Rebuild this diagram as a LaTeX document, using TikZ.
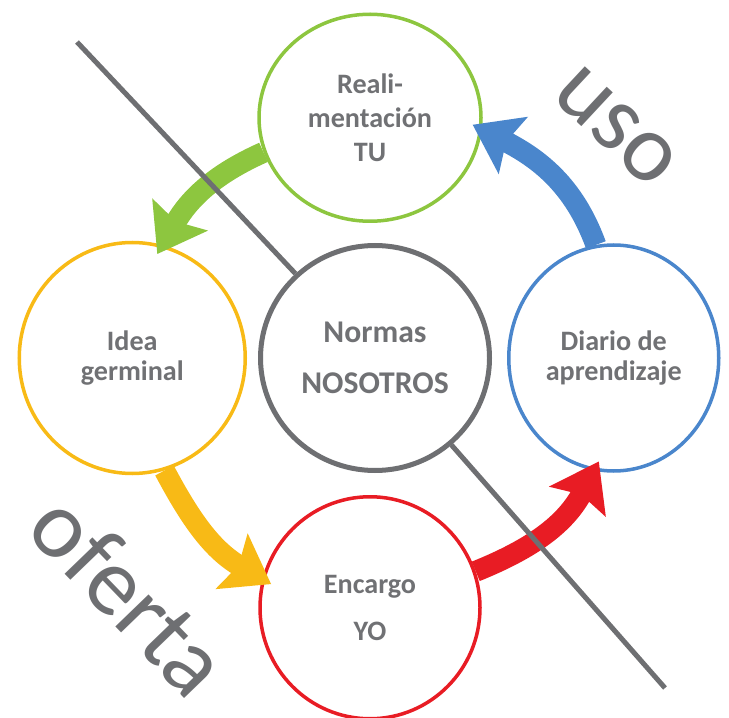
\documentclass[tikz,border=0pt]{standalone}
\usepackage{fontspec}
\setmainfont{Carlito}
\usepackage{tikz}
\usetikzlibrary{arrows.meta,shapes.geometric,positioning}
\definecolor{verde}{RGB}{141,198,63}
\definecolor{amarillo}{RGB}{248,186,22}
\definecolor{rojo}{RGB}{232,28,36}
\definecolor{azul}{RGB}{74,134,204}
\definecolor{gris}{RGB}{110,111,114}
\definecolor{texto}{RGB}{112,113,116}
\tikzset{
	ring/.style={
		ellipse,
		line width=0.07cm,
		draw=#1,
		fill=white,
		inner sep=0pt,
		text=texto,
		align=center,
	},
	flow/.style={
		line width=0.42cm,
		draw=#1,
		shorten >=-6pt,
		-{Stealth[length=9mm,width=12.5mm,inset=1.5mm]},
	},
}

\begin{document}
\begin{tikzpicture}[>=stealth]

				\tikzstyle{bigword}=[text=gris,font=\fontsize{55}{55}\selectfont]

				\useasboundingbox (0,0) rectangle (14.58,14.34);

				\node [ring=gris, line width=0.1cm, minimum width=4.58cm, minimum height=4.5cm, font=\bfseries\fontsize{18}{29}\selectfont] (normas) at (7.5,7.18) {Normas\\NOSOTROS};
				\node [ring=verde, minimum width=4.44cm, minimum height=4.14cm, font=\bfseries\fontsize{16}{19.5}\selectfont] (realim) [node distance=0.4cm, above =of normas, xshift=-1mm] {Reali-\\mentación\\TU};
				\node [ring=amarillo, minimum width=4.52cm, minimum height=4.62cm, font=\bfseries\fontsize{16}{17.6}\selectfont] (idea) [node distance=0.22cm, left =of normas] {Idea\\germinal};
				\node [ring=azul, minimum width=4.2cm, minimum height=4.52cm, font=\bfseries\fontsize{16}{17.6}\selectfont] (diario) [node distance=0.3cm, right =of normas] {Diario de\\aprendizaje};
				\node [ring=rojo, minimum width=4.4cm, minimum height=4.44cm, font=\bfseries\fontsize{16}{27}\selectfont] (encargo) [node distance=0.44cm, below =of normas, xshift=-1mm] {Encargo\\YO};

				\draw [flow=verde] (realim.198) to [out=204, in=60] (idea.75);
				\draw [flow=azul] (diario.99) to [out=110, in=-27] (realim.354);
				\draw [flow=amarillo] (idea.286) to [out=-62, in=150] (encargo.165);
				\draw [flow=rojo] (encargo.19) to [out=22, in=242] (diario.260);

				\coordinate (cutA) at (1.54,13.5);
				\coordinate (cutB) at (13.3,0.58);
				\draw [gris, line width=0.1cm] (cutA) -- (normas);
				\draw [gris, line width=0.1cm] (normas) -- (cutB);

				\node [bigword, rotate=-43] (uso) at (12.32,11.8) {uso};
				\node [bigword, rotate=-46] (oferta) at (2.6,2.45) {oferta};
			\end{tikzpicture}
\end{document}
